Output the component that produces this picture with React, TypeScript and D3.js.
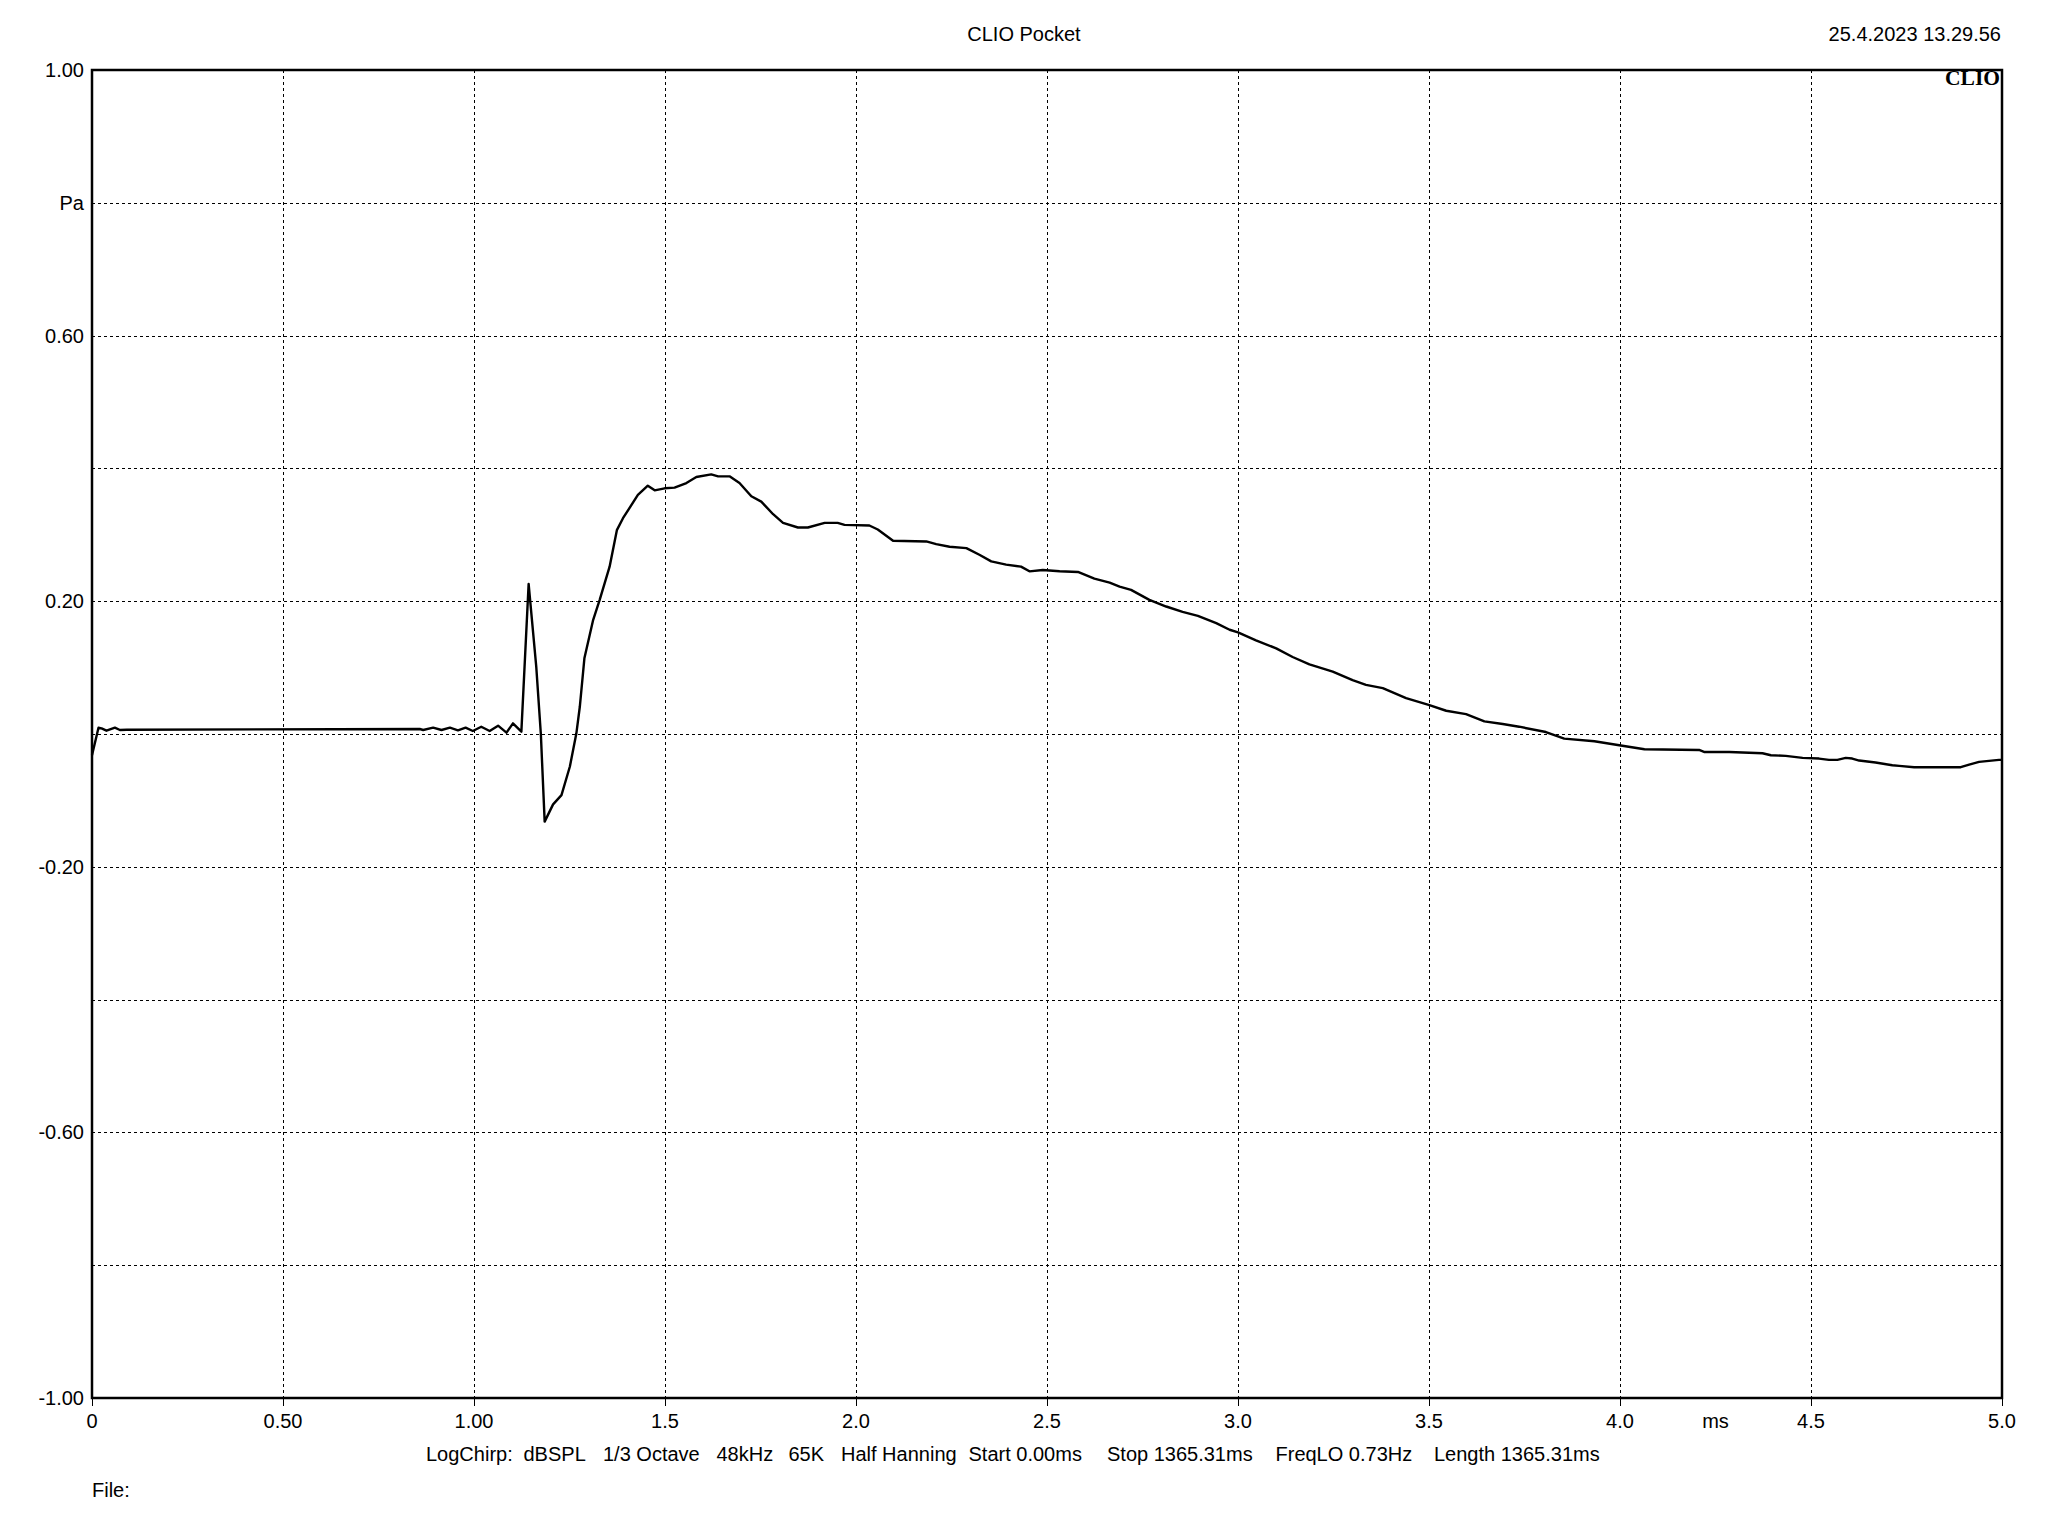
import React from "react";
import * as d3 from "d3";

// ---- data ----
const timeMs: number[] = [
  0, 0.017, 0.025, 0.038, 0.06, 0.073, 0.091, 0.858, 0.867, 0.893, 0.915, 0.937, 0.958, 0.978, 0.997,
  1.019, 1.041, 1.063, 1.085, 1.102, 1.124, 1.143, 1.163, 1.175, 1.185, 1.207, 1.229, 1.251, 1.268,
  1.277, 1.289, 1.312, 1.329, 1.355, 1.374, 1.39, 1.429, 1.455, 1.473, 1.499, 1.525, 1.556, 1.582,
  1.621, 1.639, 1.669, 1.695, 1.726, 1.752, 1.783, 1.809, 1.848, 1.874, 1.918, 1.952, 1.97, 2.035,
  2.057, 2.097, 2.184, 2.21, 2.245, 2.289, 2.323, 2.354, 2.393, 2.432, 2.454, 2.489, 2.533, 2.581,
  2.624, 2.664, 2.69, 2.72, 2.768, 2.812, 2.855, 2.895, 2.943, 2.978, 3.0, 3.047, 3.1, 3.143, 3.187,
  3.248, 3.3, 3.335, 3.379, 3.44, 3.499, 3.545, 3.597, 3.645, 3.693, 3.736, 3.806, 3.854, 3.933,
  3.998, 4.064, 4.207, 4.22, 4.286, 4.373, 4.395, 4.434, 4.478, 4.521, 4.547, 4.569, 4.591, 4.608,
  4.626, 4.669, 4.713, 4.731, 4.77, 4.892, 4.914, 4.94, 4.992, 5.0,
];
const pressurePa: number[] = [
  -0.032, 0.0095, 0.0085, 0.005, 0.0095, 0.006, 0.0065, 0.0075, 0.006, 0.0095, 0.006, 0.0095, 0.0055,
  0.0095, 0.0045, 0.011, 0.0045, 0.0125, 0.002, 0.016, 0.0035, 0.226, 0.101, 0.0, -0.132, -0.106,
  -0.092, -0.049, 0.001, 0.041, 0.114, 0.172, 0.202, 0.252, 0.307, 0.325, 0.36, 0.374, 0.367, 0.37,
  0.371, 0.378, 0.387, 0.391, 0.388, 0.388, 0.378, 0.358, 0.35, 0.331, 0.318, 0.311, 0.311, 0.318,
  0.318, 0.315, 0.314, 0.308, 0.291, 0.29, 0.286, 0.282, 0.28, 0.27, 0.26, 0.255, 0.252, 0.245,
  0.247, 0.245, 0.244, 0.234, 0.228, 0.222, 0.217, 0.202, 0.192, 0.184, 0.178, 0.167, 0.157, 0.153,
  0.141, 0.129, 0.116, 0.105, 0.094, 0.081, 0.074, 0.069, 0.054, 0.044, 0.035, 0.03, 0.019, 0.015,
  0.011, 0.003, -0.007, -0.011, -0.017, -0.023, -0.024, -0.027, -0.027, -0.029, -0.032, -0.033,
  -0.036, -0.037, -0.039, -0.039, -0.036, -0.037, -0.04, -0.043, -0.047, -0.048, -0.05, -0.05,
  -0.046, -0.042, -0.039, -0.039,
];
const xTickValues: number[] = [0, 0.5, 1.0, 1.5, 2.0, 2.5, 3.0, 3.5, 4.0, 4.5, 5.0];
const xTickLabels: string[] = ["0", "0.50", "1.00", "1.5", "2.0", "2.5", "3.0", "3.5", "4.0", "4.5", "5.0"];
const xUnit = { value: 4.25, label: "ms" };
const yTickValues: number[] = [1, 0.8, 0.6, 0.4, 0.2, 0, -0.2, -0.4, -0.6, -0.8, -1];
const yTickLabels: string[] = ["1.00", "Pa", "0.60", "", "0.20", "", "-0.20", "", "-0.60", "", "-1.00"];
const titleText = "CLIO Pocket";
const dateText = "25.4.2023 13.29.56";
const brandText = "CLIO";
const infoItems: string[] = [
  "LogChirp:", "dBSPL", "1/3 Octave", "48kHz", "65K", "Half Hanning",
  "Start 0.00ms", "Stop 1365.31ms", "FreqLO 0.73Hz", "Length 1365.31ms",
];
const fileText = "File:";

// ---- layout ----
const W = 2048;
const H = 1536;
const L = 92, R = 2002, T = 70, B = 1398;
const infoX: number[] = [426, 523.5, 603, 716.5, 788.5, 841, 968.5, 1107, 1275.5, 1434];
const FONT = "'Liberation Sans', Arial, sans-serif";

export default function App() {
  const x = d3.scaleLinear().domain([0, 5]).range([L, R]);
  const y = d3.scaleLinear().domain([-1, 1]).range([B, T]);
  const pts: [number, number][] = timeMs.map((t, i) => [t, pressurePa[i]]);
  const line = d3
    .line<[number, number]>()
    .x((d) => x(d[0]))
    .y((d) => y(d[1]));
  const px = (v: number) => Math.round(v) + 0.5;

  return (
    <svg
      width={W}
      height={H}
      viewBox={`0 0 ${W} ${H}`}
      style={{ position: "absolute", left: 0, top: 0, display: "block", background: "#fff" }}
      fontFamily={FONT}
    >
      <rect x={0} y={0} width={W} height={H} fill="#fff" />
      {/* grid */}
      {xTickValues
        .filter((v) => v > 0 && v < 5)
        .map((v) => (
          <line key={"gx" + v} x1={px(x(v))} x2={px(x(v))} y1={T} y2={B} stroke="#000" strokeWidth={1} strokeDasharray="3,3" shapeRendering="crispEdges" />
        ))}
      {yTickValues
        .filter((v) => v > -1 && v < 1)
        .map((v) => (
          <line key={"gy" + v} x1={L} x2={R} y1={px(y(v))} y2={px(y(v))} stroke="#000" strokeWidth={1} strokeDasharray="3,3" shapeRendering="crispEdges" />
        ))}
      {/* ticks below axis */}
      {xTickValues.map((v) => (
        <line key={"tk" + v} x1={px(x(v))} x2={px(x(v))} y1={B} y2={B + 8} stroke="#000" strokeWidth={1.5} shapeRendering="crispEdges" />
      ))}
      {/* data */}
      <path d={line(pts) || ""} fill="none" stroke="#000" strokeWidth={2.4} strokeLinejoin="round" />
      {/* frame */}
      <rect x={L} y={T} width={R - L} height={B - T} fill="none" stroke="#000" strokeWidth={2.5} />
      {/* y labels */}
      {yTickValues.map((v, i) =>
        yTickLabels[i] ? (
          <text key={"yl" + i} x={84} y={y(v)} dy="0.35em" textAnchor="end" fontSize={20} fill="#000">
            {yTickLabels[i]}
          </text>
        ) : null
      )}
      {/* x labels */}
      {xTickValues.map((v, i) => (
        <text key={"xl" + i} x={x(v)} y={1428} textAnchor="middle" fontSize={20} fill="#000">
          {xTickLabels[i]}
        </text>
      ))}
      <text x={x(xUnit.value)} y={1428} textAnchor="middle" fontSize={20} fill="#000">
        {xUnit.label}
      </text>
      {/* titles */}
      <text x={1024} y={41} textAnchor="middle" fontSize={20} fill="#000">
        {titleText}
      </text>
      <text x={2001} y={41} textAnchor="end" fontSize={20} fill="#000">
        {dateText}
      </text>
      <text
        x={2000}
        y={85}
        textAnchor="end"
        fontSize={21.5}
        fontWeight="bold"
        fontFamily="'Liberation Serif', 'Times New Roman', serif"
        fill="#000"
      >
        {brandText}
      </text>
      {/* info line */}
      {infoItems.map((s, i) => (
        <text key={"inf" + i} x={infoX[i]} y={1461} fontSize={20} fill="#000">
          {s}
        </text>
      ))}
      <text x={92} y={1497} fontSize={20} fill="#000">
        {fileText}
      </text>
    </svg>
  );
}
